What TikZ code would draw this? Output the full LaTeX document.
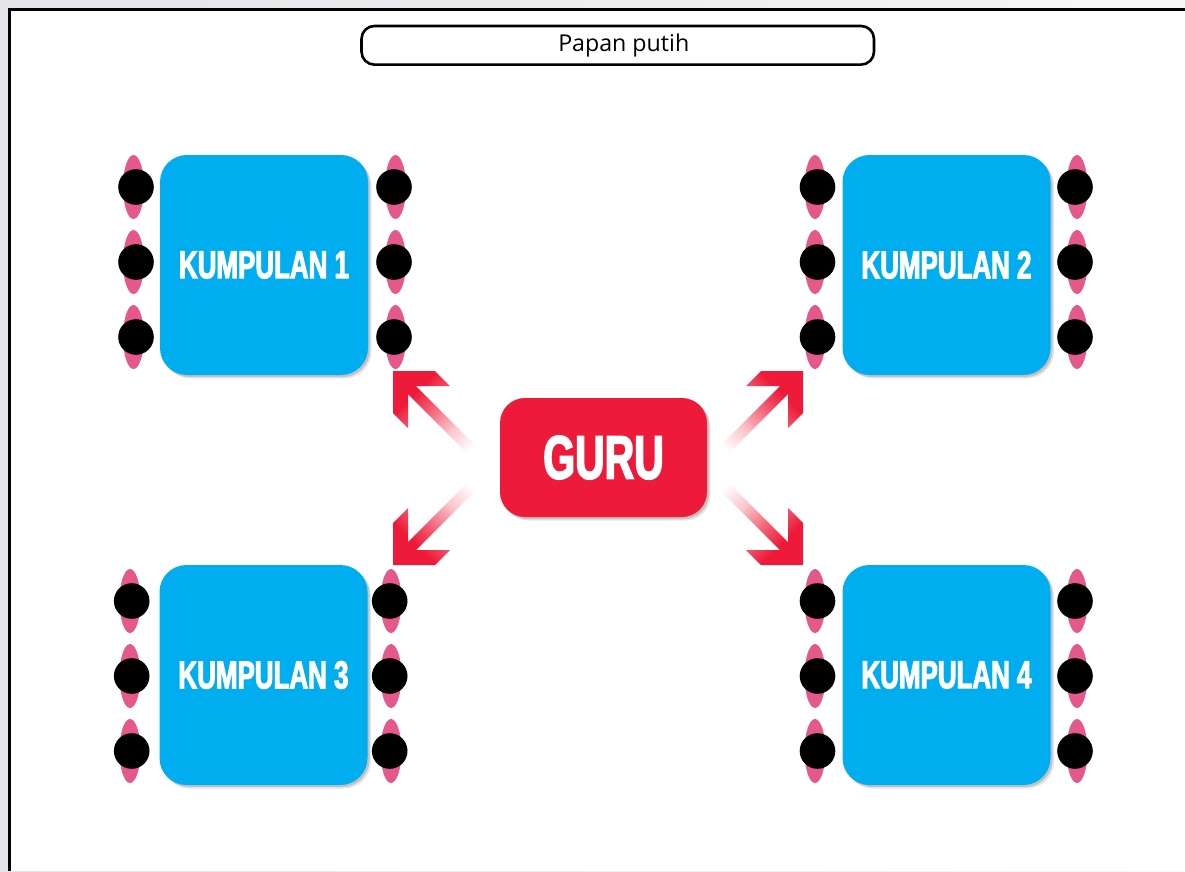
\documentclass[tikz,border=0pt]{standalone}
\usepackage{fontspec}
\setmainfont{Liberation Sans}
\newfontfamily\boardfont{Open Sans}
\newfontfamily\heavyfont{Liberation Sans Bold}[FakeStretch=0.665,FakeBold=2.6]

\definecolor{grpblue}{RGB}{0,174,239}
\definecolor{gurured}{RGB}{237,27,57}
\definecolor{seatpink}{RGB}{228,88,140}
\definecolor{edgegray}{RGB}{228,228,233}

% red fading towards the tail of each arrow
\pgfdeclarehorizontalshading{arrowfade}{100bp}{%
  color(0bp)=(white); color(22bp)=(white); color(38bp)=(gurured!25!white);
  color(55bp)=(gurured!70!white); color(68bp)=(gurured); color(100bp)=(gurured)}

% thick arrow with a square head: tip at (#1,#2), tail direction (#3,#4), shading angle #5
\newcommand\guruarrow[5]{%
  \shade[shading=arrowfade, shading angle=#5]
    (#1,#2) -- ++({(#3)*42},0) -- ++({(#3)*15},{(#4)*15}) -- ++({(#3)*(-34)},0)
    -- ++({(#3)*65},{(#4)*65}) -- ++({(#3)*(-8)},{(#4)*8})
    -- ++({(#3)*(-65)},{(#4)*(-65)}) -- ++(0,{(#4)*34})
    -- ++({(#3)*(-15)},{(#4)*(-15)}) -- cycle;}

% a seat: pink chair with a black head, head shifted by #3
\newcommand\seat[3]{%
  \fill[seatpink] (#1,#2) ellipse [x radius=10.5pt, y radius=32pt];
  \fill[black] ({#1+#3},#2) circle [radius=17.8pt];}

\tikzset{
  softshadow/.style={
    preaction={fill=black, opacity=0.10, transform canvas={xshift=3.5pt,yshift=-3.5pt}},
    preaction={fill=black, opacity=0.15, transform canvas={xshift=2pt,yshift=-2pt}}},
  board/.style={draw, line width=2.6pt, rounded corners=13pt,
    minimum width=512.5pt, minimum height=38.7pt, inner sep=0pt,
    font=\boardfont\fontsize{23.2}{26}\selectfont},
  groupbox/.style={softshadow, fill=grpblue, rounded corners=27pt,
    minimum width=208pt, minimum height=220pt, inner sep=0pt, text=white,
    font=\heavyfont\fontsize{39}{40}\selectfont},
  gurubox/.style={softshadow, fill=gurured, rounded corners=25pt,
    minimum width=207pt, minimum height=119pt, inner sep=0pt, text=white,
    font=\heavyfont\fontsize{61.5}{62}\selectfont}
}

\begin{document}
\begin{tikzpicture}[x=1pt,y=-1pt]
\useasboundingbox (0,0) rectangle (1185,871);

% page frame
\fill[left color=edgegray, right color=gray!6] (0,0) rectangle (1185,871);
\fill[white] (9.7,9.7) rectangle (1185,871);
\draw[line width=2.6pt] (9.7,871) -- (9.7,9.7) -- (1185,9.7);

% whiteboard
\node[board] (board) at (617.75,45.3) {\hspace*{12pt}Papan putih};

% seats around the tables
\foreach \y in {187,262,337} {
  \seat{133.5}{\y}{2.5} \seat{395.5}{\y}{-1.5}
  \seat{815}{\y}{2.5} \seat{1077}{\y}{-2}
}
\foreach \y in {601,676,751} {
  \seat{130}{\y}{1.7} \seat{391}{\y}{-1.3}
  \seat{815}{\y}{2.5} \seat{1077}{\y}{-2}
}

% group tables
\node[groupbox] (k1) at (264,265) {KUMPULAN 1};
\node[groupbox] (k2) at (946.5,265) {KUMPULAN 2};
\node[groupbox] (k3) at (263.5,675) {KUMPULAN 3};
\node[groupbox] (k4) at (946.5,675) {KUMPULAN 4};

% teacher
\node[gurubox] (guru) at (603.5,457.5) {GURU};

% arrows from the teacher to the groups
\guruarrow{393}{371}{1}{1}{135}
\guruarrow{803}{371}{-1}{1}{45}
\guruarrow{393}{565}{1}{-1}{225}
\guruarrow{803}{565}{-1}{-1}{315}
\end{tikzpicture}
\end{document}
